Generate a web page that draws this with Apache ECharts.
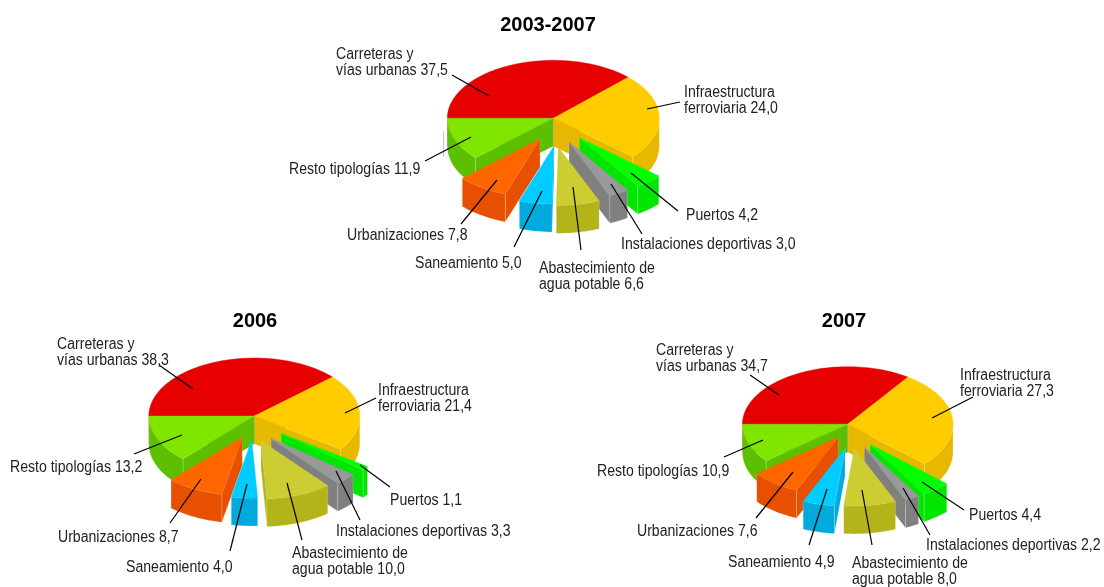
<!DOCTYPE html>
<html>
<head>
    <meta charset="utf-8">
    <title>Tipologias</title>
    <script src="https://cdn.jsdelivr.net/npm/echarts@6/dist/echarts.min.js"></script>
    <style>
        html, body { margin: 0; padding: 0; background: #fff; }
    </style>
</head>
<body>
<div id="main" style="width: 1104px;height: 587px;"></div>
<script>
    // datos
    var categories = ['Carreteras y\nvías urbanas', 'Infraestructura\nferroviaria', 'Puertos',
        'Instalaciones deportivas', 'Abastecimiento de\nagua potable', 'Saneamiento',
        'Urbanizaciones', 'Resto tipologías'];
    var titles = ['2003-2007', '2006', '2007'];
    var values2003 = [37.5, 24.0, 4.2, 3.0, 6.6, 5.0, 7.8, 11.9];
    var values2006 = [38.3, 21.4, 1.1, 3.3, 10.0, 4.0, 8.7, 13.2];
    var values2007 = [34.7, 27.3, 4.4, 2.2, 8.0, 4.9, 7.6, 10.9];
    var allValues = [values2003, values2006, values2007];

    // colores: cara superior y lateral
    var topColors = ['#e60000', '#ffcc00', '#00ff00', '#999999', '#cccc33', '#00ccff', '#ff6600', '#80e600'];
    var sideColors = ['#b30000', '#e6b800', '#00e600', '#808080', '#b3b31a', '#00aadd', '#e65000', '#5cbf00'];

    // geometria de cada tarta
    var pies = [
        {cx: 553.3, cy: 118.3, rx: 106, ry: 58, depth: 28, titleX: 548, titleY: 15,
            explode: [[0, 0], [0, 0], [26, 19.4], [15.7, 23.4], [5, 29], [0.7, 27.7], [-13.3, 20.7], [0, 0]]},
        {cx: 254.3, cy: 416, rx: 105.5, ry: 58, depth: 28, titleX: 255, titleY: 311,
            explode: [[0, 0], [0, 0], [26.7, 17.3], [16.7, 22.3], [6.7, 24.7], [-2.6, 24], [-12, 21.3], [0, 0]]},
        {cx: 847.7, cy: 424.3, rx: 105.3, ry: 57.6, depth: 28, titleX: 844, titleY: 311,
            explode: [[0, 0], [0, 0], [22.3, 20], [16.6, 22.4], [6.6, 24], [-2.7, 24], [-9.4, 13], [0, 0]]}
    ];

    // posicion de etiquetas y lineas guia [xTexto, yTexto, x1, y1, x2, y2]
    var labelLayout = [
        [[336, 46, 452, 75, 489, 96], [684, 84, 680, 102, 647, 109], [686, 207, 678, 211, 631, 173],
            [621, 236, 642, 234, 611, 184], [539, 260, 581, 250, 573, 187], [415, 255, 514, 247, 542, 191],
            [347, 227, 461, 224, 497, 180], [289, 161, 425, 161, 471, 137]],
        [[57, 336, 159, 365, 193, 389], [378, 382, 376, 398, 345, 413], [390, 492, 390, 487, 360, 465],
            [336, 523, 360, 520, 336, 471], [292, 545, 302, 540, 287, 483], [126, 559, 230, 551, 247, 484],
            [58, 529, 170, 523, 201, 479], [10, 459, 134, 454, 182, 435]],
        [[656, 342, 750, 375, 779, 395], [960, 367, 973, 397, 932, 418], [969, 507, 964, 510, 922, 482],
            [926, 537, 930, 535, 903, 488], [852, 555, 872, 545, 862, 490], [728, 554, 809, 545, 827, 489],
            [637, 523, 756, 518, 793, 472], [597, 463, 724, 457, 763, 440]]
    ];

    function sliceAngles(values) {
        var total = values.reduce(function (a, b) { return a + b; }, 0);
        var angle = 180, out = [];
        values.forEach(function (v) {
            var next = angle - v / total * 360;
            out.push([angle, next]);
            angle = next;
        });
        return out;
    }

    var angles = allValues.map(sliceAngles);

    function pointAt(pie, off, deg, drop) {
        var a = deg * Math.PI / 180;
        return [pie.cx + off[0] + pie.rx * Math.cos(a), pie.cy + off[1] - pie.ry * Math.sin(a) + (drop || 0)];
    }

    function arcPoints(pie, off, from, to, drop) {
        var pts = [], n = Math.max(2, Math.ceil(Math.abs(from - to) / 2));
        for (var i = 0; i <= n; i++) {
            pts.push(pointAt(pie, off, from + (to - from) * i / n, drop));
        }
        return pts;
    }

    // orden de pintado: de atras hacia adelante
    var sliceData = [];
    pies.forEach(function (pie, p) {
        var rows = angles[p].map(function (a, s) {
            var mid = (a[0] + a[1]) / 2 * Math.PI / 180;
            return {row: [p, s], key: pie.explode[s][1] - 0.6 * pie.ry * Math.sin(mid)};
        });
        rows.sort(function (a, b) { return a.key - b.key; });
        rows.forEach(function (r) { sliceData.push(r.row); });
    });

    function renderSlice(params, api) {
        var p = api.value(0), s = api.value(1);
        var pie = pies[p], off = pie.explode[s];
        var a = angles[p][s];
        var apex = [pie.cx + off[0], pie.cy + off[1]];
        var mid = pointAt(pie, off, (a[0] + a[1]) / 2);
        var children = [];
        var edgeColor = 'rgba(255,255,255,0.3)';

        // caras radiales visibles
        [a[0], a[1]].forEach(function (deg) {
            var out = pointAt(pie, off, deg);
            var ex = out[0] - apex[0], ey = out[1] - apex[1];
            var crossMid = ex * (mid[1] - apex[1]) - ey * (mid[0] - apex[0]);
            if (crossMid * ex < 0) {
                children.push({
                    type: 'polygon',
                    shape: {points: [apex, out, [out[0], out[1] + pie.depth], [apex[0], apex[1] + pie.depth]]},
                    style: {fill: sideColors[s], stroke: edgeColor, lineWidth: 0.6}
                });
            }
        });

        // pared exterior, solo la mitad frontal
        var wallFrom = a[0] > 0 ? 0 : a[0];
        var wallTo = a[1];
        if (wallTo < 0) {
            var top = arcPoints(pie, off, wallFrom, wallTo);
            var bottom = arcPoints(pie, off, wallTo, wallFrom, pie.depth);
            children.push({
                type: 'polygon',
                shape: {points: top.concat(bottom)},
                style: {fill: sideColors[s], stroke: edgeColor, lineWidth: 0.6}
            });
        }

        // cara superior
        children.push({
            type: 'polygon',
            shape: {points: [apex].concat(arcPoints(pie, off, a[0], a[1]))},
            style: {fill: topColors[s], stroke: topColors[s], lineWidth: 0.4}
        });
        return {type: 'group', children: children};
    }

    function labelText(p, s) {
        return categories[s] + ' ' + allValues[p][s].toFixed(1).replace('.', ',');
    }

    var graphics = [];
    labelLayout.forEach(function (rows, p) {
        rows.forEach(function (l, s) {
            graphics.push({
                type: 'line', z: 10, silent: true,
                shape: {x1: l[2], y1: l[3], x2: l[4], y2: l[5]},
                style: {stroke: '#000', lineWidth: 1.2}
            });
            graphics.push({
                type: 'text', z: 11, silent: true, x: l[0], y: l[1], scaleX: 0.88,
                style: {text: labelText(p, s), fill: '#222', font: '16px "Liberation Sans"', lineHeight: 16.5,
                    align: 'left', verticalAlign: 'top'}
            });
        });
    });
    // marca suelta que aparece junto a la primera tarta
    graphics.push({
        type: 'line', silent: true,
        shape: {x1: 443.5, y1: 131, x2: 443.5, y2: 157},
        style: {stroke: '#e8b4b4', lineWidth: 1}
    });

    var myChart = echarts.init(document.getElementById('main'), null, {renderer: 'canvas'});
    myChart.setOption({
        animation: false,
        backgroundColor: '#fff',
        title: titles.map(function (t, i) {
            return {
                text: t,
                left: pies[i].titleX,
                top: pies[i].titleY,
                textAlign: 'center',
                padding: 0,
                textStyle: {fontFamily: 'Liberation Sans', fontSize: 20, fontWeight: 'bold', color: '#000'}
            };
        }),
        series: [{
            type: 'custom',
            coordinateSystem: 'none',
            silent: true,
            renderItem: renderSlice,
            data: sliceData
        }],
        graphic: graphics
    });
</script>
</body>
</html>
